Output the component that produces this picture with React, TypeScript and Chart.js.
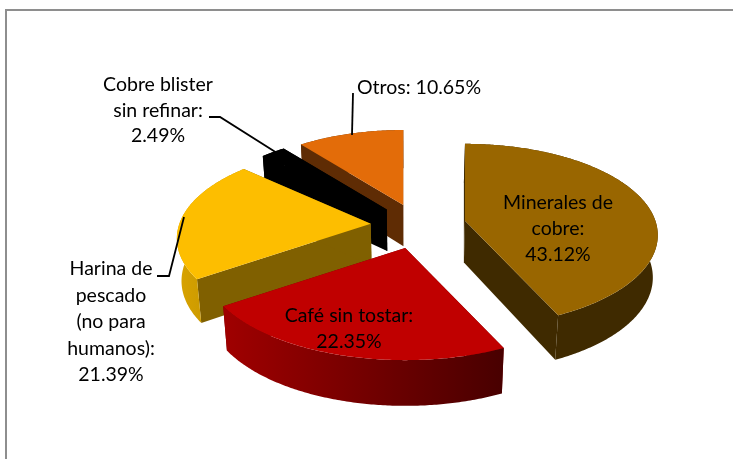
import React, { useEffect, useRef } from "react";
import { Chart, registerables } from "chart.js";

Chart.register(...registerables);

const categories = ["Minerales de cobre", "Café sin tostar", "Harina de pescado (no para humanos)", "Cobre blister sin refinar", "Otros"];
const shares = [43.12, 22.35, 21.39, 2.49, 10.65];
const topColors = ["#996600", "#C00000", "#FDBE00", "#000000", "#E36C09"];
const rimColors = [["#3F2A00", "#3F2A00"], ["#A00000", "#480000"], ["#D9A300", "#B98E00"], ["#000000", "#000000"], ["#5F2C04", "#5F2C04"]];
const wallColors = ["#3F2A00", "#700000", "#806000", "#000000", "#5F2C04"];
const drawOrder = [0, 4, 3, 2, 1];

const labelLines = [
  ["Minerales de", "cobre:", "43.12%"],
  ["Café sin tostar:", "22.35%"],
  ["Harina de", "pescado", "(no para", "humanos):", "21.39%"],
  ["Cobre blister", "sin refinar:", "2.49%"],
  ["Otros: 10.65%"],
];
const labelAnchors = [[558, 203, 26], [349, 316, 26], [111, 269, 26.5], [158, 85, 25.5], [419, 88, 26]];
const leaders = [
  [[209, 117], [220, 117], [277, 153]],
  [[353, 93], [352, 135]],
  [[157, 276], [169, 276], [184, 217]],
];

const EXPLODE = 0.25;
const PERSPECTIVE = 0.16;
const TILT = 0.468;
const DEPTH = 42;
const VANISH_X = 410;

const pie3d = {
  id: "pie3d",
  beforeDraw(chart: any) {
    const { ctx } = chart;
    ctx.save();
    ctx.fillStyle = "#ffffff";
    ctx.fillRect(0, 0, chart.width, chart.height);
    ctx.strokeStyle = "#8E8E8E";
    ctx.lineWidth = 2;
    ctx.strokeRect(6, 10, 900, 900);
    ctx.restore();
  },
  beforeDatasetDraw(chart: any) {
    const { ctx } = chart;
    const arcs = chart.getDatasetMeta(0).data;
    for (const i of drawOrder) drawSlice(ctx, arcs[i], i);
    return false;
  },
  afterDraw(chart: any) {
    const { ctx } = chart;
    ctx.save();
    ctx.strokeStyle = "#000000";
    ctx.lineWidth = 1.8;
    for (const line of leaders) {
      ctx.beginPath();
      line.forEach(([x, y], k) => (k ? ctx.lineTo(x, y) : ctx.moveTo(x, y)));
      ctx.stroke();
    }
    ctx.fillStyle = "#000000";
    ctx.font = "19.5px Lato";
    ctx.textAlign = "center";
    ctx.textBaseline = "middle";
    labelLines.forEach((lines, i) => {
      const [x, y, step] = labelAnchors[i];
      lines.forEach((t, k) => ctx.fillText(t, x, y + k * step));
    });
    ctx.restore();
  },
};

function drawSlice(ctx: any, el: any, i: number) {
  const R = el.outerRadius;
  const Ry = R * TILT;
  const a0 = el.startAngle + Math.PI / 2;
  const a1 = el.endAngle + Math.PI / 2;
  const mid = (a0 + a1) / 2;
  const eu = EXPLODE * Math.sin(mid);
  const ev = -EXPLODE * Math.cos(mid);
  const ew = 1 - PERSPECTIVE * ev;
  const ax = el.x + (R * eu) / ew;
  const ay = el.y + (Ry * ev) / ew;

  const top = (t: number, r = 1) => {
    const u = r * Math.sin(t);
    const v = -r * Math.cos(t);
    const w = 1 - PERSPECTIVE * (v + ev);
    return { x: ax + (R * u) / w, y: ay + (Ry * v) / w, v: v + ev };
  };
  const low = (p: any) => ({ x: p.x + (VANISH_X - p.x) * 0.02, y: p.y + DEPTH + 3 * p.v });

  const rim: any[] = [];
  const steps = Math.max(4, Math.ceil((a1 - a0) / 0.01));
  for (let k = 0; k <= steps; k++) rim.push(top(a0 + ((a1 - a0) * k) / steps));
  const apex = top(0, 0);
  const first = rim[0];
  const last = rim[rim.length - 1];

  const poly = (pts: any[], fill: any) => {
    ctx.beginPath();
    pts.forEach((p, k) => (k ? ctx.lineTo(p.x, p.y) : ctx.moveTo(p.x, p.y)));
    ctx.closePath();
    ctx.fillStyle = fill;
    ctx.fill();
  };

  poly([apex, first, low(first), low(apex)], wallColors[i]);
  poly([apex, last, low(last), low(apex)], wallColors[i]);

  const xs = rim.map((p) => p.x);
  const g = ctx.createLinearGradient(Math.min(...xs), 0, Math.max(...xs), 0);
  g.addColorStop(0, rimColors[i][0]);
  g.addColorStop(1, rimColors[i][1]);
  poly([...rim, ...rim.map(low).reverse()], g);

  poly([apex, ...rim], topColors[i]);
}

export default function App() {
  const ref = useRef<HTMLCanvasElement>(null);
  useEffect(() => {
    const chart = new Chart(ref.current as HTMLCanvasElement, {
      type: "pie",
      data: {
        labels: categories,
        datasets: [{ data: shares, backgroundColor: topColors, borderWidth: 0 }],
      },
      options: {
        animation: false,
        responsive: false,
        radius: 192,
        rotation: 0,
        layout: { padding: { left: 104, bottom: 8 } },
        plugins: { legend: { display: false }, tooltip: { enabled: false } },
      } as any,
      plugins: [pie3d],
    });
    return () => chart.destroy();
  }, []);
  return (
    <div style={{ position: "absolute", left: 0, top: 0, width: 733, height: 459, overflow: "hidden" }}>
      <canvas ref={ref} width={733} height={459} style={{ display: "block" }} />
    </div>
  );
}
